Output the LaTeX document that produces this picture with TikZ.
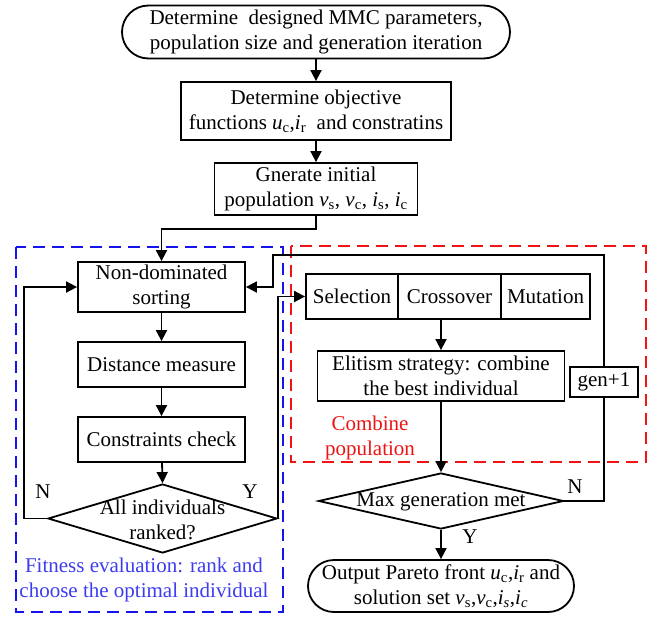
\documentclass[tikz,border=0pt]{standalone}
\usepackage{fontspec}
\setmainfont{Liberation Serif}
\usetikzlibrary{arrows.meta,shapes.geometric,shapes.misc}
\newcommand\vsub[2]{\textit{#1}\textsubscript{#2}}
\definecolor{dashblue}{RGB}{20,20,235}
\definecolor{dashred}{RGB}{240,20,20}
\definecolor{txtblue}{RGB}{60,60,240}
\definecolor{txtred}{RGB}{235,20,20}
\begin{document}
\begin{tikzpicture}[x=1pt,y=-1pt,
  font=\fontsize{21}{25}\selectfont,
  box/.style={draw,line width=1.8pt,rectangle,align=center,inner sep=1pt},
  stad/.style={draw,line width=1.8pt,rounded rectangle,align=center,inner sep=1pt},
  dia/.style={draw,line width=1.8pt,diamond,inner sep=0pt},
  conn/.style={line width=1.8pt},
  arr/.style={conn,-{Triangle[length=11pt,width=11pt]}},
  lbl/.style={inner sep=0pt},
  grp/.style={line width=1.8pt,dash pattern=on 12pt off 7pt}
]
\useasboundingbox (0,0) rectangle (656,616);
% group frames
\draw[grp,dashblue] (16,247) rectangle (283,612);
\draw[grp,dashred] (291,246) rectangle (646,462);
% top chain
\node[stad,minimum width=390pt,minimum height=53pt] (start) at (316,32) {Determine\ \ designed MMC parameters,\\population size and generation iteration};
\node[box,minimum width=270pt,minimum height=58pt] (obj) at (316,111) {Determine objective\\functions \vsub{u}{c},\vsub{i}{r}\ \ and constratins};
\node[box,minimum width=203pt,minimum height=52pt] (init) at (316,189) {Gnerate initial\\population \vsub{v}{s}, \vsub{v}{c}, \vsub{i}{s}, \vsub{i}{c}};
% fitness evaluation
\node[box,minimum width=167pt,minimum height=50pt] (nds) at (161.5,287) {Non-dominated\\sorting};
\node[box,minimum width=167pt,minimum height=45pt] (dist) at (161.5,364.5) {Distance measure};
\node[box,minimum width=167pt,minimum height=45pt] (cons) at (161.5,439.5) {Constraints check};
\node[dia,minimum width=229pt,minimum height=69pt] (d1) at (162.5,518.5) {};
\node[align=center,lbl] (d1t) at (162.5,520) {All individuals\\ranked?};
\node[lbl] (n1) at (43,492) {N};
\node[lbl] (y1) at (250,492) {Y};
\node[lbl,align=center,text=txtblue] (fit) at (144,580) {Fitness evaluation: rank and\\choose the optimal individual};
% combine population
\node[box,minimum width=92pt,minimum height=45pt] (sel) at (352,296.5) {Selection};
\node[box,minimum width=103pt,minimum height=45pt] (cross) at (449.5,296.5) {Crossover};
\node[box,minimum width=89pt,minimum height=45pt] (mut) at (545.5,296.5) {Mutation};
\node[box,minimum width=247pt,minimum height=50pt] (elit) at (441,376) {Elitism strategy: combine\\the best individual};
\node[box,minimum width=68pt,minimum height=30pt] (gen) at (604,382) {gen+1};
\node[lbl,align=center,text=txtred] (comb) at (370,438) {Combine\\population};
\node[dia,minimum width=245pt,minimum height=56pt] (d2) at (441,501) {};
\node[lbl] (d2t) at (441,502) {Max generation met};
\node[lbl] (n2) at (575,487) {N};
\node[lbl] (y2) at (470,537) {Y};
\node[stad,minimum width=268pt,minimum height=52pt] (out) at (441,586) {Output Pareto front \vsub{u}{c},\vsub{i}{r} and\\solution set \vsub{v}{s},\vsub{v}{c},\textit{i\textsubscript{s}},\textit{i\textsubscript{c}}};
\coordinate (fb) at (273,255);
% connectors
\draw[arr] (start.south) -- (obj.north);
\draw[arr] (obj.south) -- (init.north);
\draw[arr] (init.south) -- ++(0,13) -| (nds.north);
\draw[arr] (nds) -- (dist);
\draw[arr] (dist) -- (cons);
\draw[arr] (cons) -- (d1.north);
\draw[arr] (d1.west) -- ++(-23,0) |- (nds.west);
\draw[arr] (d1.east) |- (sel.west);
\draw[arr] (gen.north) |- (fb) |- (nds.east);
\draw[conn] (d2.east) -| (gen.south);
\draw[arr] (cross.south -| elit.north) -- (elit.north);
\draw[arr] (elit.south) -- (d2.north);
\draw[arr] (d2.south) -- (out.north);
\end{tikzpicture}
\end{document}
